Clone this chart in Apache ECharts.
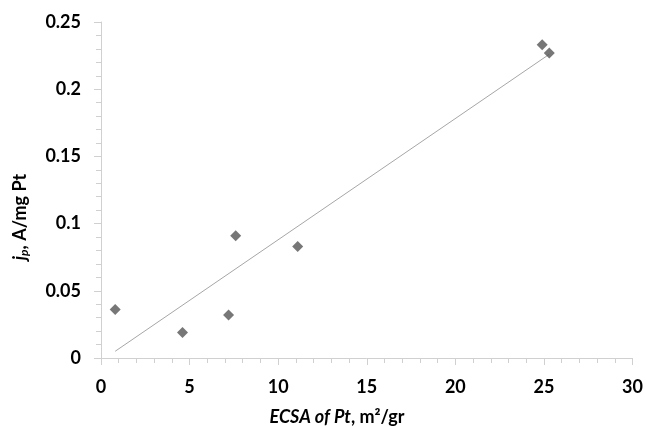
<!DOCTYPE html>
<html>
<head>
<meta charset="utf-8">
<script src="https://cdn.jsdelivr.net/npm/echarts@6/dist/echarts.min.js"></script>
<style>
  html, body { margin: 0; padding: 0; background: #fff; }
  #chart { width: 646px; height: 427px; }
</style>
</head>
<body>
<div id="chart"></div>
<script>
// measured points (ECSA of Pt vs j_p)
var ecsa = [0.8, 4.6, 7.2, 7.6, 11.1, 24.9, 25.3]
var jp = [0.036, 0.019, 0.032, 0.091, 0.083, 0.233, 0.227]
// linear trendline ends
var trendX = [0.8, 25.3]
var trendY = [0.005, 0.226]

var axisGray = '#d0d0d0'
var textColor = '#000'
var font = 'Lato, "Open Sans", sans-serif'

var myChart = echarts.init(document.getElementById('chart'))

var option = {
  animation: false,
  grid: { left: 101, right: 13, top: 22, bottom: 69 },
  xAxis: {
    type: 'value',
    min: 0,
    max: 30,
    interval: 5,
    axisLine: { show: true, lineStyle: { color: axisGray } },
    axisTick: { show: true, length: 7, lineStyle: { color: axisGray } },
    minorTick: { show: true, splitNumber: 5, length: 5, lineStyle: { color: axisGray } },
    splitLine: { show: false },
    axisLabel: { margin: 20, color: textColor, fontSize: 18, fontWeight: 'bold', fontFamily: font }
  },
  yAxis: {
    type: 'value',
    min: 0,
    max: 0.25,
    interval: 0.05,
    axisLine: { show: true, lineStyle: { color: axisGray } },
    axisTick: { show: true, length: 7, lineStyle: { color: axisGray } },
    minorTick: { show: true, splitNumber: 5, length: 5, lineStyle: { color: axisGray } },
    splitLine: { show: false },
    axisLabel: { margin: 20, color: textColor, fontSize: 18, fontWeight: 'bold', fontFamily: font }
  },
  graphic: [
    {
      type: 'text',
      x: 337,
      y: 417,
      style: {
        text: '{i|ECSA of Pt}{n|, m²/gr}',
        align: 'center',
        verticalAlign: 'middle',
        rich: {
          i: { fontSize: 18, fontWeight: 'bold', fontStyle: 'italic', fontFamily: font, fill: textColor },
          n: { fontSize: 18, fontWeight: 'bold', fontFamily: font, fill: textColor }
        }
      }
    },
    {
      type: 'text',
      x: 20,
      y: 217,
      rotation: Math.PI / 2,
      style: {
        text: '{i|j}{s|p}{n|, A/mg Pt}',
        align: 'center',
        verticalAlign: 'middle',
        rich: {
          i: { fontSize: 18, fontWeight: 'bold', fontStyle: 'italic', fontFamily: font, fill: textColor },
          s: { fontSize: 12, fontWeight: 'bold', fontStyle: 'italic', fontFamily: font, fill: textColor, padding: [8, 0, 0, 0] },
          n: { fontSize: 18, fontWeight: 'bold', fontFamily: font, fill: textColor }
        }
      }
    }
  ],
  series: [
    {
      type: 'line',
      data: trendX.map(function (x, i) { return [x, trendY[i]] }),
      symbol: 'none',
      lineStyle: { color: '#a6a6a6', width: 1 },
      z: 1
    },
    {
      type: 'scatter',
      data: ecsa.map(function (x, i) { return [x, jp[i]] }),
      symbol: 'diamond',
      symbolSize: [11, 11],
      itemStyle: { color: '#555555' },
      z: 2
    }
  ]
}
myChart.setOption(option)
</script>
</body>
</html>
